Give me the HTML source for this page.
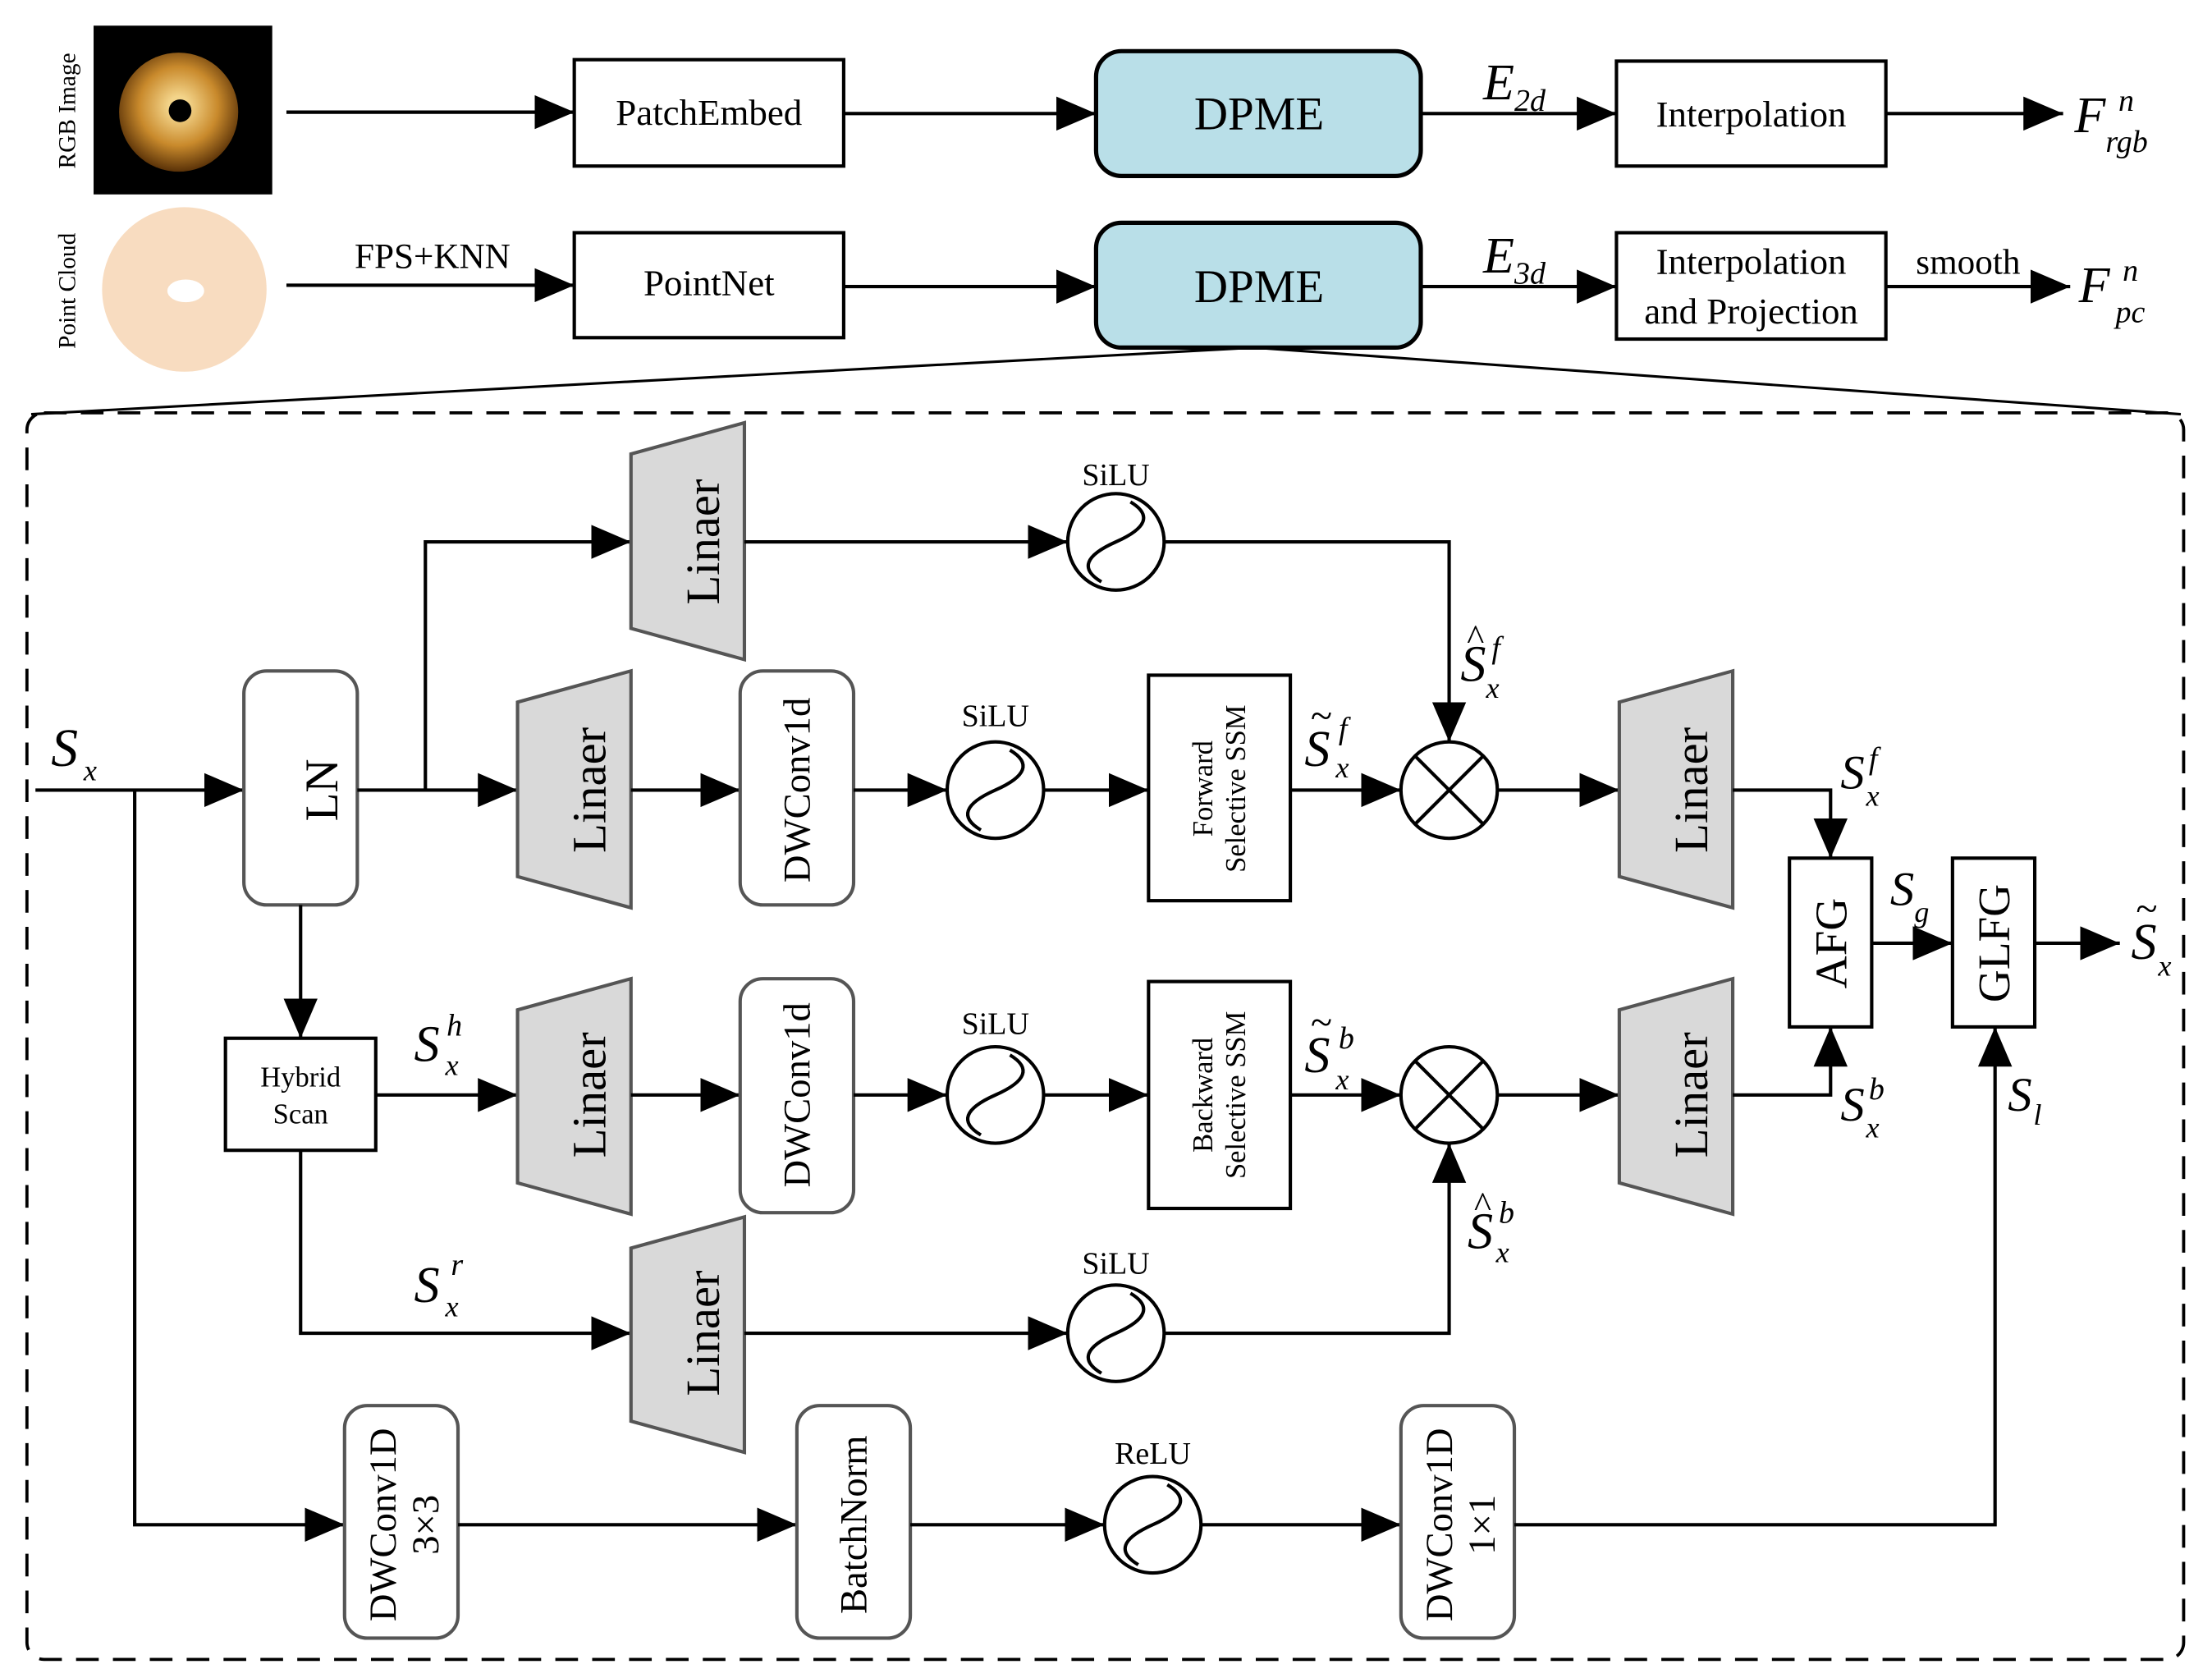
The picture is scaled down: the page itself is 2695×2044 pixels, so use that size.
<!DOCTYPE html>
<html><head><meta charset="utf-8"><style>
html,body{margin:0;padding:0;background:#fff}
svg{display:block}
text{font-family:"Liberation Serif",serif;fill:#000}
.it{font-style:italic}
</style></head><body>
<svg width="2695" height="2044" viewBox="0 0 1560 1183" xmlns="http://www.w3.org/2000/svg">
<defs>
<marker id="b" markerWidth="28" markerHeight="24" refX="28" refY="12" orient="auto" markerUnits="userSpaceOnUse" viewBox="0 0 28 24">
<path d="M0,0 L28,12 L0,24 z" fill="#000"/></marker>
<radialGradient id="dg" cx="50%" cy="45%" r="55%"><stop offset="0.15" stop-color="#f3d48a"/><stop offset="0.6" stop-color="#c98a2c"/><stop offset="1" stop-color="#5a3208"/></radialGradient>
</defs>
<g stroke="#000" stroke-width="2.4" fill="none">
<rect x="66" y="18" width="126" height="119" fill="#000" stroke="none"/>
<circle cx="126" cy="79" r="42" fill="url(#dg)" stroke="none"/>
<circle cx="127" cy="78" r="8" fill="#000" stroke="none"/>
<circle cx="130" cy="204" r="58" fill="#f8dcc0" stroke="none"/>
<ellipse cx="131" cy="205" rx="13" ry="8" fill="#fff" stroke="none"/>
<line x1="202" y1="79" x2="405" y2="79" marker-end="url(#b)"/>
<rect x="405" y="42" width="190" height="75"/>
<line x1="595" y1="80" x2="773" y2="80" marker-end="url(#b)"/>
<rect x="773" y="36" width="229" height="88" rx="18" fill="#b9dfe8" stroke-width="3"/>
<line x1="1002" y1="80" x2="1140" y2="80" marker-end="url(#b)"/>
<rect x="1140" y="43" width="190" height="74"/>
<line x1="1330" y1="80" x2="1455" y2="80" marker-end="url(#b)"/>
<line x1="202" y1="201" x2="405" y2="201" marker-end="url(#b)"/>
<rect x="405" y="164" width="190" height="74"/>
<line x1="595" y1="202" x2="773" y2="202" marker-end="url(#b)"/>
<rect x="773" y="157" width="229" height="88" rx="18" fill="#b9dfe8" stroke-width="3"/>
<line x1="1002" y1="202" x2="1140" y2="202" marker-end="url(#b)"/>
<rect x="1140" y="164" width="190" height="75"/>
<line x1="1330" y1="202" x2="1460" y2="202" marker-end="url(#b)"/>
<line x1="885" y1="245" x2="22" y2="292" stroke-width="1.8"/>
<line x1="885" y1="245" x2="1538" y2="292" stroke-width="1.8"/>
<rect x="19" y="291" width="1521" height="879" rx="12" stroke-dasharray="16,10" stroke-width="2.2"/>

<line x1="25" y1="557" x2="172" y2="557" marker-end="url(#b)"/>
<rect x="172" y="473" width="80" height="165" rx="16" stroke="#555"/>
<line x1="252" y1="557" x2="365" y2="557" marker-end="url(#b)"/>
<polyline points="300,557 300,382 445,382" marker-end="url(#b)"/>
<polygon points="445,320 525,298 525,465 445,443" fill="#d9d9d9" stroke="#555"/>
<line x1="525" y1="382" x2="753" y2="382" marker-end="url(#b)"/>
<circle cx="787" cy="382" r="34"/>
<polyline points="821,382 1022,382 1022,523" marker-end="url(#b)"/>
<polygon points="365,495 445,473 445,640 365,618" fill="#d9d9d9" stroke="#555"/>
<line x1="445" y1="557" x2="522" y2="557" marker-end="url(#b)"/>
<rect x="522" y="473" width="80" height="165" rx="16" stroke="#555"/>
<line x1="602" y1="557" x2="668" y2="557" marker-end="url(#b)"/>
<circle cx="702" cy="557" r="34"/>
<line x1="736" y1="557" x2="810" y2="557" marker-end="url(#b)"/>
<rect x="810" y="476" width="100" height="159"/>
<line x1="910" y1="557" x2="988" y2="557" marker-end="url(#b)"/>
<circle cx="1022" cy="557" r="34"/>
<line x1="998" y1="533" x2="1046" y2="581"/><line x1="1046" y1="533" x2="998" y2="581"/>
<line x1="1056" y1="557" x2="1142" y2="557" marker-end="url(#b)"/>
<polygon points="1142,495 1222,473 1222,640 1142,618" fill="#d9d9d9" stroke="#555"/>
<polyline points="1222,557 1291,557 1291,605" marker-end="url(#b)"/>
<rect x="1262" y="605" width="58" height="119"/>
<line x1="1320" y1="665" x2="1377" y2="665" marker-end="url(#b)"/>
<rect x="1377" y="605" width="58" height="119"/>
<line x1="1435" y1="665" x2="1495" y2="665" marker-end="url(#b)"/>
<line x1="212" y1="638" x2="212" y2="732" marker-end="url(#b)"/>
<rect x="159" y="732" width="106" height="79"/>
<line x1="265" y1="772" x2="365" y2="772" marker-end="url(#b)"/>
<polygon points="365,712 445,690 445,856 365,834" fill="#d9d9d9" stroke="#555"/>
<line x1="445" y1="772" x2="522" y2="772" marker-end="url(#b)"/>
<rect x="522" y="690" width="80" height="165" rx="16" stroke="#555"/>
<line x1="602" y1="772" x2="668" y2="772" marker-end="url(#b)"/>
<circle cx="702" cy="772" r="34"/>
<line x1="736" y1="772" x2="810" y2="772" marker-end="url(#b)"/>
<rect x="810" y="692" width="100" height="160"/>
<line x1="910" y1="772" x2="988" y2="772" marker-end="url(#b)"/>
<circle cx="1022" cy="772" r="34"/>
<line x1="998" y1="748" x2="1046" y2="796"/><line x1="1046" y1="748" x2="998" y2="796"/>
<line x1="1056" y1="772" x2="1142" y2="772" marker-end="url(#b)"/>
<polygon points="1142,712 1222,690 1222,856 1142,834" fill="#d9d9d9" stroke="#555"/>
<polyline points="1222,772 1291,772 1291,724" marker-end="url(#b)"/>
<polyline points="212,811 212,940 445,940" marker-end="url(#b)"/>
<polygon points="445,880 525,858 525,1024 445,1002" fill="#d9d9d9" stroke="#555"/>
<line x1="525" y1="940" x2="753" y2="940" marker-end="url(#b)"/>
<circle cx="787" cy="940" r="34"/>
<polyline points="821,940 1022,940 1022,806" marker-end="url(#b)"/>
<polyline points="95,557 95,1075 243,1075" marker-end="url(#b)"/>
<rect x="243" y="991" width="80" height="164" rx="16" stroke="#555"/>
<line x1="323" y1="1075" x2="562" y2="1075" marker-end="url(#b)"/>
<rect x="562" y="991" width="80" height="164" rx="16" stroke="#555"/>
<line x1="642" y1="1075" x2="779" y2="1075" marker-end="url(#b)"/>
<circle cx="813" cy="1075" r="34"/>
<line x1="847" y1="1075" x2="988" y2="1075" marker-end="url(#b)"/>
<rect x="988" y="991" width="80" height="164" rx="16" stroke="#555"/>
<polyline points="1068,1075 1407,1075 1407,724" marker-end="url(#b)"/>
<path d="M757,382 Q762,356 787,382 Q812,408 817,382" transform="rotate(-70 787 382)"/>
<path d="M672,557 Q677,531 702,557 Q727,583 732,557" transform="rotate(-70 702 557)"/>
<path d="M672,772 Q677,746 702,772 Q727,798 732,772" transform="rotate(-70 702 772)"/>
<path d="M757,940 Q762,914 787,940 Q812,966 817,940" transform="rotate(-70 787 940)"/>
<path d="M783,1075 Q788,1049 813,1075 Q838,1101 843,1075" transform="rotate(-70 813 1075)"/>
</g>

<text x="53" y="78" font-size="17" text-anchor="middle" transform="rotate(-90 53 78)">RGB Image</text>
<text x="53" y="205" font-size="17" text-anchor="middle" transform="rotate(-90 53 205)">Point Cloud</text>
<text x="500" y="88" font-size="26" text-anchor="middle">PatchEmbed</text>
<text x="500" y="208" font-size="26" text-anchor="middle">PointNet</text>
<text x="888" y="91" font-size="33" text-anchor="middle">DPME</text>
<text x="888" y="213" font-size="33" text-anchor="middle">DPME</text>
<text x="1235" y="89" font-size="26" text-anchor="middle">Interpolation</text>
<text x="1235" y="193" font-size="26" text-anchor="middle">Interpolation</text>
<text x="1235" y="228" font-size="26" text-anchor="middle">and Projection</text>
<text x="305" y="189" font-size="25" text-anchor="middle">FPS+KNN</text>
<text x="1388" y="193" font-size="25" text-anchor="middle">smooth</text>
<text x="1046" y="70" font-size="36" class="it">E<tspan font-size="22" dy="8">2d</tspan></text>
<text x="1046" y="192" font-size="36" class="it">E<tspan font-size="22" dy="8">3d</tspan></text>
<text x="1463" y="93" font-size="36" class="it">F</text><text x="1494" y="78" font-size="22" class="it">n</text><text x="1485" y="107" font-size="22" class="it">rgb</text>
<text x="1466" y="213" font-size="36" class="it">F</text><text x="1497" y="198" font-size="22" class="it">n</text><text x="1492" y="227" font-size="22" class="it">pc</text>

<text x="227" y="557" font-size="33" text-anchor="middle" transform="rotate(-90 227 557)" dy="11">LN</text>
<g font-size="34" text-anchor="middle">
<text transform="translate(496,382) rotate(-90)" dy="11">Linaer</text>
<text transform="translate(416,557) rotate(-90)" dy="11">Linaer</text>
<text transform="translate(416,772) rotate(-90)" dy="11">Linaer</text>
<text transform="translate(496,940) rotate(-90)" dy="11">Linaer</text>
<text transform="translate(1193,557) rotate(-90)" dy="11">Linaer</text>
<text transform="translate(1193,772) rotate(-90)" dy="11">Linaer</text>
</g>
<g font-size="27" text-anchor="middle">
<text transform="translate(562,557) rotate(-90)" dy="9">DWConv1d</text>
<text transform="translate(562,772) rotate(-90)" dy="9">DWConv1d</text>
<text transform="translate(602,1075) rotate(-90)" dy="9">BatchNorm</text>
<text transform="translate(1291,665) rotate(-90)" dy="11" font-size="32">AFG</text>
<text transform="translate(1406,665) rotate(-90)" dy="11" font-size="32">GLFG</text>
<text transform="translate(283,1075) rotate(-90)"><tspan x="0" dy="-4">DWConv1D</tspan><tspan x="0" dy="30">3×3</tspan></text>
<text transform="translate(1028,1075) rotate(-90)"><tspan x="0" dy="-4">DWConv1D</tspan><tspan x="0" dy="30">1×1</tspan></text>
</g>
<g font-size="20" text-anchor="middle">
<text transform="translate(860,556) rotate(-90)"><tspan x="0" dy="-5">Forward</tspan><tspan x="0" dy="23">Selective SSM</tspan></text>
<text transform="translate(860,772) rotate(-90)"><tspan x="0" dy="-5">Backward</tspan><tspan x="0" dy="23">Selective SSM</tspan></text>
<text x="212" y="766">Hybrid</text><text x="212" y="792">Scan</text>
</g>
<g font-size="22" text-anchor="middle">
<text x="787" y="342">SiLU</text><text x="702" y="512">SiLU</text><text x="702" y="729">SiLU</text>
<text x="787" y="898">SiLU</text><text x="813" y="1032">ReLU</text>
</g>
<g class="it">
<text x="36" y="540" font-size="38">S</text><text x="59" y="550" font-size="21">x</text>
<text x="292" y="748" font-size="36">S</text><text x="315" y="730" font-size="22">h</text><text x="314" y="758" font-size="21">x</text>
<text x="292" y="918" font-size="36">S</text><text x="318" y="899" font-size="22">r</text><text x="314" y="928" font-size="21">x</text>
<text x="920" y="540" font-size="36">S</text><text x="924" y="514" font-size="28">~</text><text x="944" y="521" font-size="22">f</text><text x="942" y="548" font-size="21">x</text>
<text x="920" y="756" font-size="36">S</text><text x="924" y="730" font-size="28">~</text><text x="944" y="739" font-size="22">b</text><text x="942" y="768" font-size="21">x</text>
<text x="1030" y="480" font-size="36">S</text><text x="1034" y="458" font-size="26">^</text><text x="1052" y="464" font-size="22">f</text><text x="1048" y="492" font-size="21">x</text>
<text x="1035" y="880" font-size="36">S</text><text x="1039" y="858" font-size="26">^</text><text x="1057" y="862" font-size="22">b</text><text x="1055" y="890" font-size="21">x</text>
<text x="1298" y="556" font-size="34">S</text><text x="1318" y="542" font-size="22">f</text><text x="1316" y="568" font-size="21">x</text>
<text x="1298" y="790" font-size="34">S</text><text x="1318" y="775" font-size="22">b</text><text x="1316" y="802" font-size="21">x</text>
<text x="1333" y="638" font-size="34">S</text><text x="1350" y="650" font-size="21">g</text>
<text x="1416" y="783" font-size="34">S</text><text x="1434" y="793" font-size="21">l</text>
<text x="1503" y="676" font-size="36">S</text><text x="1506" y="650" font-size="28">~</text><text x="1522" y="688" font-size="21">x</text>
</g>
</svg>
</body></html>
